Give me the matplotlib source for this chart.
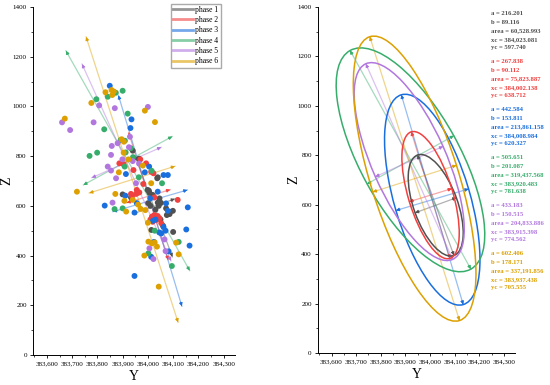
import matplotlib
matplotlib.use("Agg")
from matplotlib import pyplot as plt
from matplotlib.patches import Ellipse
from matplotlib.ticker import FuncFormatter, MultipleLocator
import numpy as np

plt.rcParams['font.family'] = ['Liberation Serif', 'DejaVu Serif']

phases = ['phase 1', 'phase 2', 'phase 3', 'phase 4', 'phase 5', 'phase 6']
colors = ['#515151', '#F14040', '#1A6FDF', '#37AD6B', '#B177DE', '#DDA000']

# ellipse parameters (printed on the chart), angle of major axis
a_vals = [216.201, 267.838, 442.584, 505.651, 433.183, 602.406]
b_vals = [89.116, 90.112, 153.811, 201.087, 150.515, 178.171]
area_vals = [60528.993, 75823.887, 213861.158, 319437.568, 204833.886, 337191.856]
xc_vals = [384023.081, 384002.138, 384008.984, 383920.483, 383915.398, 383937.438]
yc_vals = [597.740, 638.712, 620.327, 781.638, 774.562, 705.555]
angle_vals = [110, 107, 106.5, 119, 114, 107.6]

# scatter points per phase (Y, Z)
y1 = [383940, 383965, 383900, 383933, 384004, 384006, 384037, 384039, 383999, 384019, 384046, 384052, 384001, 384010,
      384039, 384043, 384072, 384086, 384099, 384075, 384088, 384014, 384050, 384100, 384060, 384030, 384025]
z1 = [822, 790, 646, 634, 661, 653, 711, 715, 664, 644, 630, 612, 611, 600,
      613, 600, 590, 567, 580, 563, 576, 503, 545, 495, 520, 585, 560]
y2 = [383887, 383903, 383943, 383970, 383993, 384013, 384022, 383956, 383982, 383937, 383957, 383933, 383953,
      383966, 384026, 384118, 384016, 384026, 384033, 384046, 384019, 384053, 384039, 384030, 384010]
z2 = [771, 768, 744, 787, 771, 737, 731, 664, 688, 637, 651, 648, 648,
      654, 634, 624, 557, 563, 543, 550, 536, 530, 559, 548, 545]
y3 = [383849, 383935, 383931, 383829, 383911, 383956, 383947, 384009, 384072, 384079, 384158, 384152, 384165, 383947,
      384013, 384082, 384045, 384053, 384020, 384030, 384062, 384005, 384062, 384079, 383913, 383988, 384039, 384024, 384070]
z3 = [1083, 948, 913, 601, 641, 611, 573, 630, 610, 580, 594, 505, 440, 318,
      395, 417, 493, 489, 540, 545, 515, 758, 724, 724, 728, 735, 657, 455, 500]
y4 = [383900, 383841, 383873, 383796, 383920, 383827, 383769, 383799, 383892, 383909, 383912, 383932, 383868, 383900,
      384027, 384122, 384095, 384002, 383941, 384015, 384056, 383964, 383908]
z4 = [1063, 1039, 1055, 1029, 971, 908, 801, 814, 865, 862, 815, 832, 587, 590,
      500, 455, 358, 409, 796, 741, 691, 715, 758]
y5 = [383807, 383869, 384000, 383660, 383692, 383785, 383857, 383880, 383925, 383929, 383854, 383899, 383841, 383854,
      383874, 383953, 383860, 384066, 384006, 384022, 384070, 383940, 383965]
z5 = [1004, 993, 998, 936, 905, 936, 841, 852, 836, 878, 805, 787, 758, 742,
      711, 691, 613, 465, 429, 386, 418, 780, 770]
y6 = [383832, 383856, 383859, 383865, 383776, 383988, 383671, 384028, 383896, 383905, 383719, 383871, 383907, 383940,
      383914, 383961, 383971, 383990, 384000, 384002, 384016, 384027, 384036, 384112, 384122, 383986, 384043, 383885,
      383904, 383923, 383980, 384013]
z6 = [1057, 1066, 1046, 1060, 1014, 983, 951, 937, 868, 858, 657, 648, 620, 624,
      577, 605, 588, 583, 532, 456, 449, 453, 436, 452, 405, 400, 275, 735,
      814, 787, 762, 691]
pts_y = [y1, y2, y3, y4, y5, y6]
pts_z = [z1, z2, z3, z4, z5, z6]

fig = plt.figure(figsize=(5.5, 3.85), dpi=100)
axL = fig.add_axes([33/550, 30/385, 202/550, 348/385])
axR = fig.add_axes([318/550, 32/385, 197/550, 346/385])


def draw_axis_arrows(ax, i):
    c = colors[i]
    th = np.radians(angle_vals[i])
    for r, t in [(a_vals[i], th), (b_vals[i], th - np.pi/2)]:
        u = np.array([np.cos(t), np.sin(t)])
        p0 = np.array([xc_vals[i], yc_vals[i]]) - r*u
        p1 = np.array([xc_vals[i], yc_vals[i]]) + r*u
        ax.plot([p0[0], p1[0]], [p0[1], p1[1]], color=c, lw=0.9, alpha=0.45, zorder=2)
        for p, q in [(p1, p1 - 18*u), (p0, p0 + 18*u)]:
            ax.annotate('', xy=p, xytext=q,
                        arrowprops=dict(arrowstyle='-|>', color=c, lw=0.6, mutation_scale=5,
                                        shrinkA=0, shrinkB=0), zorder=3)


for i in range(6):
    draw_axis_arrows(axL, i)
    axL.plot([], [], color=colors[i], lw=2, alpha=0.6, label=phases[i])
for i in range(6):
    axL.scatter(pts_y[i], pts_z[i], s=18, color=colors[i], edgecolors='none', zorder=4)

for i in range(6):
    draw_axis_arrows(axR, i)
    axR.add_patch(Ellipse((xc_vals[i], yc_vals[i]), 2*a_vals[i], 2*b_vals[i], angle=angle_vals[i],
                          fill=False, edgecolor=colors[i], lw=1.1, zorder=4))

fmt = FuncFormatter(lambda v, p: '{:,.0f}'.format(v))
for ax in (axL, axR):
    ax.set_xlim(383545, 384345)
    ax.set_ylim(0, 1400)
    ax.xaxis.set_major_locator(MultipleLocator(100))
    ax.xaxis.set_minor_locator(MultipleLocator(50))
    ax.yaxis.set_major_locator(MultipleLocator(200))
    ax.yaxis.set_minor_locator(MultipleLocator(100))
    ax.xaxis.set_major_formatter(fmt)
    for s in ['top', 'right']:
        ax.spines[s].set_visible(False)
    for s in ['left', 'bottom']:
        ax.spines[s].set_linewidth(0.7)
    ax.tick_params(which='major', labelsize=5, length=2.5, width=0.6, pad=2)
    ax.tick_params(which='minor', length=1.5, width=0.5)
    ax.set_xlabel('Y', fontsize=10, labelpad=3)
    ax.set_ylabel('Z', fontsize=10)
axL.yaxis.set_label_coords(-0.095, 0.5)
axR.yaxis.set_label_coords(-0.09, 0.5)

axL.legend(loc='upper right', bbox_to_anchor=(0.93, 1.01), fontsize=5.5, frameon=True, fancybox=False,
           edgecolor='#aaaaaa', framealpha=1, handlelength=2.6, labelspacing=0.3, borderpad=0.3,
           handletextpad=0.3, borderaxespad=0.0)

# parameter text on the right
for i in range(6):
    lines = ['a = {:.3f}'.format(a_vals[i]),
             'b = {:.3f}'.format(b_vals[i]),
             'area = {:,.3f}'.format(area_vals[i]),
             'xc = {:,.3f}'.format(xc_vals[i]),
             'yc = {:.3f}'.format(yc_vals[i])]
    for k, t in enumerate(lines):
        py = 13.5 + 48*i + 8.6*k
        fig.text(491/550, 1 - py/385, t, color=colors[i], fontsize=4.8, fontweight='bold',
                 ha='left', va='center')

fig.savefig('out.png', dpi=100)
